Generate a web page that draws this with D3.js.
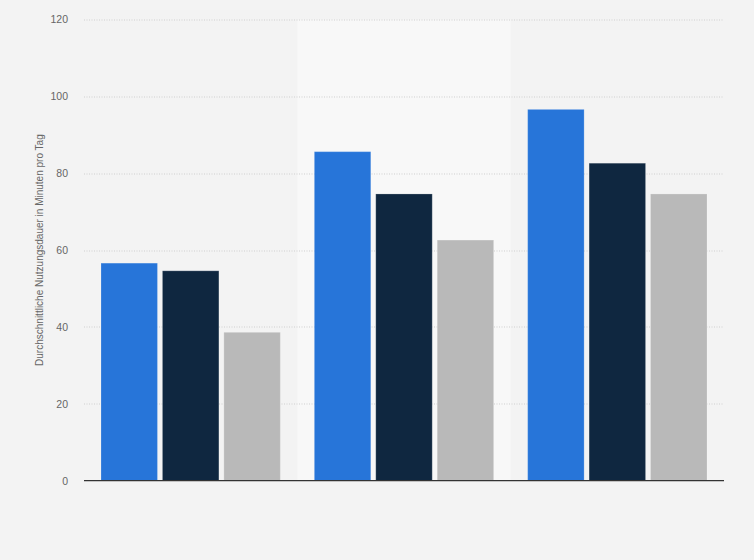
<!DOCTYPE html>
<html>
<head>
<meta charset="utf-8">
<script src="https://cdn.jsdelivr.net/npm/d3@7"></script>
<style>
  html, body { margin: 0; padding: 0; background: #f3f3f3; }
  svg { display: block; }
  text { font-family: "Liberation Sans", Arial, sans-serif; }
</style>
</head>
<body>
<svg id="chart" width="754" height="560"></svg>
<script>
// ---- data ----
const categories = ["Gruppe 1", "Gruppe 2", "Gruppe 3"];
const seriesNames = ["Serie A", "Serie B", "Serie C"];
const seriesA = [57, 86, 97];
const seriesB = [55, 75, 83];
const seriesC = [39, 63, 75];
const yTicks = [0, 20, 40, 60, 80, 100, 120];
const yLabel = "Durchschnittliche Nutzungsdauer in Minuten pro Tag";

const seriesValues = [seriesA, seriesB, seriesC];
const colors = ["#2775d9", "#0f2740", "#b9b9b9"];

const svg = d3.select("#chart");
const W = 754, H = 560;
const margin = { left: 84, right: 30, top: 19.5, bottom: 79.3 };
const plotW = W - margin.left - margin.right;
const plotH = H - margin.top - margin.bottom;

svg.append("rect").attr("width", W).attr("height", H).attr("fill", "#f3f3f3");

const g = svg.append("g").attr("transform", `translate(${margin.left},${margin.top})`);

const x0 = d3.scaleBand().domain(categories).range([0, plotW]).padding(0);
const groupPad = 17;
const x1 = d3.scaleBand().domain(seriesNames)
  .range([groupPad, x0.bandwidth() - groupPad])
  .paddingInner(0.081).paddingOuter(0);
const y = d3.scaleLinear().domain([0, 120]).range([plotH, 0]);

// alternating band
g.selectAll("rect.band")
  .data(categories.filter((d, i) => i % 2 === 1))
  .join("rect")
  .attr("class", "band")
  .attr("x", d => x0(d))
  .attr("y", 0)
  .attr("width", x0.bandwidth())
  .attr("height", plotH)
  .attr("fill", "#f8f8f8");

// gridlines
g.selectAll("line.grid")
  .data(yTicks.filter(t => t !== 0))
  .join("line")
  .attr("class", "grid")
  .attr("x1", 0).attr("x2", plotW)
  .attr("y1", d => Math.round(y(d)) + 0.5)
  .attr("y2", d => Math.round(y(d)) + 0.5)
  .attr("stroke", "#cfcfcf")
  .attr("stroke-width", 1)
  .attr("stroke-dasharray", "1,1.5");

// y axis labels via d3 axis
const yAxis = d3.axisLeft(y).tickValues(yTicks).tickSize(0).tickPadding(16);
const yAx = g.append("g").call(yAxis);
yAx.select(".domain").remove();
yAx.selectAll("text")
  .attr("fill", "#666")
  .style("font-size", "10.5px")
  .style("font-family", "'Liberation Sans', Arial, sans-serif");

// bars (1.5px crisp-edge inset at the top, as in the reference rendering)
const topInset = 1.5;
const groups = g.selectAll("g.grp")
  .data(categories)
  .join("g")
  .attr("class", "grp")
  .attr("transform", d => `translate(${x0(d)},0)`);

groups.selectAll("rect.bar")
  .data((c, ci) => seriesNames.map((s, si) => ({ s, si, v: seriesValues[si][ci] })))
  .join("rect")
  .attr("class", "bar")
  .attr("x", d => x1(d.s))
  .attr("y", d => y(d.v) + topInset)
  .attr("width", x1.bandwidth())
  .attr("height", d => y(0) - y(d.v) - topInset)
  .attr("fill", d => colors[d.si])
  .attr("stroke", "#ffffff")
  .attr("stroke-opacity", 0.2)
  .attr("stroke-width", 1);

// x axis baseline
g.append("line")
  .attr("x1", 0).attr("x2", plotW)
  .attr("y1", y(0)).attr("y2", y(0))
  .attr("stroke", "#333")
  .attr("stroke-width", 1.3);

// y axis title
svg.append("text")
  .attr("transform", `translate(43,${margin.top + plotH / 2}) rotate(-90)`)
  .attr("text-anchor", "middle")
  .attr("fill", "#666")
  .style("font-size", "10px")
  .text(yLabel);
</script>
</body>
</html>
